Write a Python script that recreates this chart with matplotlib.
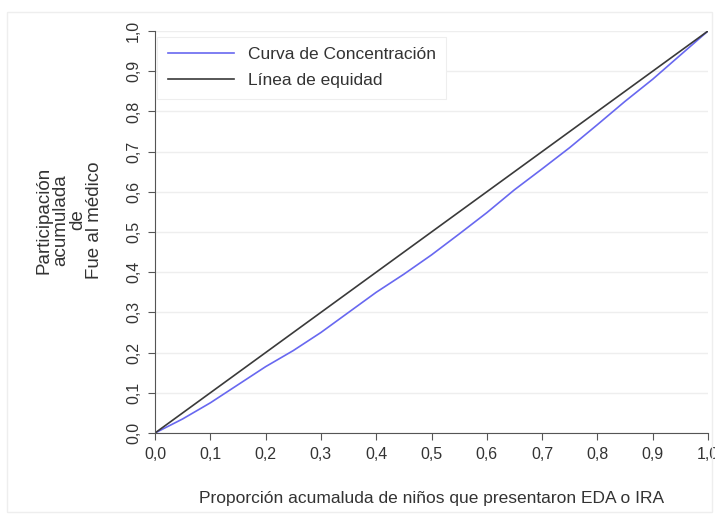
import numpy as np
import matplotlib
matplotlib.use('Agg')
import matplotlib.pyplot as plt
from matplotlib.patches import Rectangle

plt.rcParams['font.family'] = ['Liberation Sans', 'DejaVu Sans']

# Cumulative shares
prop_ninos = [0.0, 0.05, 0.10, 0.15, 0.20, 0.25, 0.30, 0.35, 0.40, 0.45, 0.50,
              0.55, 0.60, 0.65, 0.70, 0.75, 0.80, 0.85, 0.90, 0.95, 1.0]
part_medico = [0.0, 0.035, 0.075, 0.12, 0.165, 0.205, 0.25, 0.30, 0.35, 0.395, 0.443,
               0.495, 0.548, 0.605, 0.657, 0.71, 0.767, 0.825, 0.88, 0.94, 1.0]
equidad = [0.0, 1.0]

ticks = [i / 10 for i in range(11)]
tick_labels = ['0,0', '0,1', '0,2', '0,3', '0,4', '0,5', '0,6', '0,7', '0,8', '0,9', '1,0']

fig = plt.figure(figsize=(7.15, 5.19), dpi=100)
ax = fig.add_axes([0.2168, 0.1657, 0.7734, 0.7746])

# faint outer frame of the graph region
fig.patches.append(Rectangle((7 / 715, 7 / 519), 705 / 715, 500 / 519,
                             transform=fig.transFigure, fill=False,
                             edgecolor='#eeeeee', linewidth=1))

ax.plot(prop_ninos, part_medico, color='#6868f0', linewidth=1.2,
        label='Curva de Concentración')
ax.plot(equidad, equidad, color='#3a3a3a', linewidth=1.2,
        label='Línea de equidad')

ax.set_xlim(0, 1)
ax.set_ylim(0, 1)
ax.set_xticks(ticks)
ax.set_xticklabels(tick_labels, fontsize=11.5, color='#333333')
ax.set_yticks(ticks)
ax.set_yticklabels(tick_labels, fontsize=11.5, color='#333333', rotation=90, va='center')
ax.tick_params(axis='both', length=5, width=0.8, color='#555555', pad=5)

for side in ['top', 'right']:
    ax.spines[side].set_visible(False)
for side in ['left', 'bottom']:
    ax.spines[side].set_color('#555555')
    ax.spines[side].set_linewidth(0.8)

ax.grid(axis='y', color='#eeeeee', linewidth=1)
ax.set_axisbelow(True)

ax.set_xlabel('Proporción acumaluda de niños que presentaron EDA o IRA',
              fontsize=12.5, color='#333333', labelpad=21)
ax.set_ylabel('Participación\nacumulada\nde\nFue al médico', fontsize=13.5,
              color='#333333', linespacing=1.0)
ax.yaxis.set_label_coords(-0.094, 0.53)

leg = ax.legend(loc='upper left', bbox_to_anchor=(0.004, 0.986), fontsize=12.5,
                handlelength=3.8, handletextpad=0.8, labelspacing=0.62,
                borderpad=0.6, borderaxespad=0, fancybox=False, framealpha=1)
leg.get_frame().set_edgecolor('#eeeeee')
leg.get_frame().set_linewidth(0.8)
for t in leg.get_texts():
    t.set_color('#333333')

fig.savefig('out.png', dpi=100)
